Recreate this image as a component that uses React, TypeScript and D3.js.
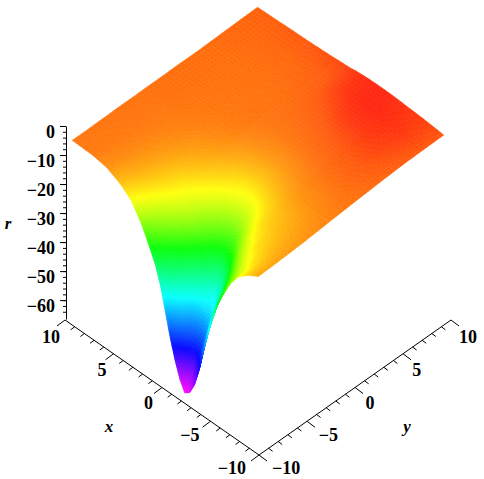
import React, { useEffect, useRef } from "react";
import * as d3 from "d3";

const gridX = [-9.6, -8.5, -7.5, -6.5, -5.5, -5, -4.5, -4, -3.5, -3, -2.5, -2, -1.5, -1, -0.5, 0, 0.5, 1, 1.5, 2.5, 3.5, 4.5, 6, 7.5, 9.6];
const gridY = [-9.65, -9, -8, -7, -6, -5, -4, -3, -2, -0.5, 1.5, 3.5, 5.5, 7.5, 9.65];
const gridR = [
  [-6.7, -8.9, -11.8, -17, -25, -30.5, -37, -44.5, -53, -59.5, -63.3, -64.5, -61, -55.6, -49, -41.2, -33.4, -27.8, -23.6, -16.5, -11.2, -8.3, -5.6, -4.7, -4.5],
  [-6.6, -8.6, -11.5, -16, -22.5, -26.5, -31, -37, -44, -50.5, -55, -54.5, -50, -42.5, -35, -29.5, -25, -21.5, -18.5, -13.5, -10.2, -7.9, -5.6, -4.7, -4.5],
  [-6.5, -8, -9.8, -12.5, -18, -22, -26.5, -31.5, -36, -39, -40, -39, -35.5, -30, -25, -21, -18, -15.8, -14, -11.2, -8.8, -7, -5.4, -4.7, -4.5],
  [-6.3, -7.4, -8.6, -10, -13.5, -16, -19.5, -24, -29, -33.5, -35, -30.5, -25.5, -21.5, -18.5, -16.2, -14.3, -12.9, -11.8, -9.6, -8, -6.6, -5.3, -4.6, -4.4],
  [-6.1, -7, -8, -9, -10.7, -12.3, -14.5, -17, -20, -22.8, -24, -22.3, -19.7, -17.4, -15.5, -13.8, -12.5, -11.4, -10.6, -8.8, -7.4, -6.2, -5.1, -4.6, -4.4],
  [-5.9, -6.6, -7.4, -8.2, -9.2, -10.1, -11.4, -13, -15, -16.5, -17, -16.4, -15.2, -14, -12.8, -11.7, -10.8, -9.9, -9.2, -7.9, -6.8, -5.9, -5, -4.5, -4.3],
  [-5.6, -6.2, -6.9, -7.6, -8.4, -9, -9.8, -10.7, -11.8, -12.6, -13, -12.7, -12, -11.4, -10.8, -10, -9.3, -8.6, -8, -7, -6.2, -5.5, -4.9, -4.5, -4.3],
  [-5.3, -5.8, -6.3, -6.9, -7.4, -8, -8.5, -9, -9.5, -10, -10.3, -10.4, -10.2, -9.7, -9.2, -8.6, -8, -7.5, -7, -6.3, -5.7, -5.2, -4.8, -4.5, -4.3],
  [-5, -5.3, -5.6, -5.9, -6.4, -6.7, -7.1, -7.5, -7.8, -8.1, -8.3, -8.3, -8.2, -8, -7.7, -7.3, -6.9, -6.5, -6.1, -5.6, -5.2, -4.9, -4.6, -4.4, -4.2],
  [-4.6, -4.6, -4.8, -5, -5.2, -5.4, -5.6, -5.8, -6, -6.1, -6.2, -6.2, -6.1, -6, -5.9, -5.7, -5.5, -5.3, -5.1, -4.9, -4.7, -4.6, -4.5, -4.3, -4.2],
  [-4.1, -3.8, -3.7, -3.8, -3.9, -4, -4.1, -4.2, -4.3, -4.4, -4.5, -4.55, -4.6, -4.6, -4.6, -4.55, -4.5, -4.5, -4.5, -4.4, -4.4, -4.4, -4.4, -4.2, -4.1],
  [-3.6, -3.1, -2.8, -2.8, -2.8, -2.9, -3, -3.1, -3.2, -3.35, -3.5, -3.6, -3.7, -3.8, -3.9, -3.95, -4, -4.1, -4.2, -4.3, -4.3, -4.3, -4.3, -4.2, -4.1],
  [-3.2, -2.7, -2.3, -2.1, -2, -2, -2, -2, -2.1, -2.2, -2.4, -2.6, -2.8, -2.95, -3.1, -3.3, -3.5, -3.65, -3.8, -4, -4.1, -4.1, -4.1, -4, -3.9],
  [-3, -2.4, -2, -1.8, -1.6, -1.5, -1.5, -1.45, -1.45, -1.5, -1.6, -1.75, -1.9, -2.15, -2.4, -2.7, -3, -3.2, -3.35, -3.5, -3.7, -3.8, -3.8, -3.8, -3.7],
  [-2.9, -2.5, -2.2, -2, -1.8, -1.7, -1.6, -1.55, -1.5, -1.5, -1.5, -1.55, -1.6, -1.75, -1.9, -2.2, -2.3, -2.4, -2.5, -2.7, -2.85, -3, -3.1, -3.3, -3.5],
];

// colour by height
const hueR = [-65, -52, -37, -23, -11, -4.5, -3, -1.5];
const hueDeg = [305, 240, 180, 120, 60, 26, 19, 6];

const rMajor = [0, -10, -20, -30, -40, -50, -60];
const rMinor = d3.range(0, -66, -2);
const planeMajor = [-10, -5, 0, 5, 10];
const planeMinor = d3.range(-10, 11);

const font = "'Liberation Serif', serif";

const xAxisX = d3.scaleLinear().domain([10, -10]).range([65, 259]);
const xAxisY = d3.scaleLinear().domain([10, -10]).range([320, 455]);
const yAxisX = d3.scaleLinear().domain([-10, 10]).range([259, 451]);
const yAxisY = d3.scaleLinear().domain([-10, 10]).range([455, 320]);
const rScale = d3.scaleLinear().domain([0, -66.5]).range([126, 319]);
const hue = d3.scaleLinear().domain(hueR).range(hueDeg).clamp(true);

const xLabelX = d3.scaleLinear().domain([10, -10]).range([60, 246]);
const yLabelX = d3.scaleLinear().domain([-10, 10]).range([272, 459]);
const xLabelY = d3.scaleLinear().domain([10, -10]).range([343, 474]);
const yLabelY = d3.scaleLinear().domain([10, -10]).range([343, 474]);

const project = (x: number, y: number, r: number): [number, number] => [
  xAxisX(x) + yAxisX(y) - 259,
  xAxisY(x) + yAxisY(y) - 455 - (319 - rScale(r)),
];

// each grid cell is shaded in small pieces, far cells first so the near wall of the well covers what is behind it
function surfaceCells() {
  const cells: { key: string; d: string; fill: string; depth: number }[] = [];
  const line = d3.line();
  for (let j = 0; j < gridY.length - 1; j++) {
    for (let i = 0; i < gridX.length - 1; i++) {
      const corners = [gridR[j][i], gridR[j][i + 1], gridR[j + 1][i], gridR[j + 1][i + 1]];
      const steps = Math.max(6, Math.min(12, Math.ceil(((d3.max(corners) as number) - (d3.min(corners) as number)) / 1.2)));
      const lx = d3.interpolateNumber(gridX[i], gridX[i + 1]);
      const ly = d3.interpolateNumber(gridY[j], gridY[j + 1]);
      const low = d3.interpolateNumber(corners[0], corners[1]);
      const high = d3.interpolateNumber(corners[2], corners[3]);
      const at = (u: number, v: number) => d3.interpolateNumber(low(u), high(u))(v);
      for (let a = 0; a < steps; a++) {
        for (let b = 0; b < steps; b++) {
          const u0 = a / steps, u1 = (a + 1) / steps;
          const v0 = b / steps, v1 = (b + 1) / steps;
          const d = line([
            project(lx(u0), ly(v0), at(u0, v0)),
            project(lx(u1), ly(v0), at(u1, v0)),
            project(lx(u1), ly(v1), at(u1, v1)),
            project(lx(u0), ly(v1), at(u0, v1)),
          ]) + "Z";
          const mid = at((u0 + u1) / 2, (v0 + v1) / 2);
          cells.push({
            key: `${j}-${i}-${a}-${b}`,
            d,
            fill: d3.hsl(hue(mid), 1, 0.52).toString(),
            depth: lx(u0) + ly(v0),
          });
        }
      }
    }
  }
  return cells.sort((p, q) => q.depth - p.depth);
}

const App = () => {
  const rAxis = useRef<SVGGElement>(null);

  useEffect(() => {
    const g = d3.select(rAxis.current);
    g.selectAll("*").remove();
    const minor = g.append("g").call(d3.axisLeft(rScale).tickValues(rMinor).tickSize(3).tickFormat(() => ""));
    minor.select(".domain").remove();
    const major = g.append("g").call(d3.axisLeft(rScale).tickValues(rMajor).tickSize(6).tickSizeOuter(0));
    major.selectAll("text")
      .attr("x", -11)
      .attr("dy", "0.62em")
      .attr("y", 0)
      .style("font-family", font)
      .style("font-weight", "bold")
      .style("font-size", "18px");
  }, []);

  const cells = surfaceCells();

  return (
    <svg width={484} height={479} style={{ position: "absolute", left: 0, top: 0 }}>
      <defs>
        <filter id="soft" x="-5%" y="-5%" width="110%" height="110%" colorInterpolationFilters="sRGB">
          <feGaussianBlur stdDeviation="0.6" />
        </filter>
      </defs>
      <rect width={484} height={479} fill="#fff" />
      <g filter="url(#soft)">
        {cells.map((c) => (
          <path key={c.key} d={c.d} fill={c.fill} stroke={c.fill} strokeWidth={0.5} />
        ))}
      </g>
      <g ref={rAxis} transform="translate(66,0)" />
      <g stroke="#000" strokeWidth={1} fill="none">
        <line x1={xAxisX(10)} y1={xAxisY(10)} x2={xAxisX(-10)} y2={xAxisY(-10)} />
        <line x1={yAxisX(-10)} y1={yAxisY(-10)} x2={yAxisX(10)} y2={yAxisY(10)} />
        {planeMinor.map((v) => {
          const len = planeMajor.includes(v) ? 1 : 0.5;
          return (
            <g key={v}>
              <line x1={xAxisX(v)} y1={xAxisY(v)} x2={xAxisX(v) - 8 * len} y2={xAxisY(v) + 6 * len} />
              <line x1={yAxisX(v)} y1={yAxisY(v)} x2={yAxisX(v) + 8 * len} y2={yAxisY(v) + 6 * len} />
            </g>
          );
        })}
      </g>
      <g fontFamily={font} fontWeight="bold" fontSize={18} fill="#000">
        {planeMajor.map((v) => (
          <g key={v}>
            <text x={xLabelX(v)} y={xLabelY(v)} textAnchor="end">{v < 0 ? `\u2212${-v}` : v}</text>
            <text x={yLabelX(v)} y={yLabelY(v)}>{v < 0 ? `\u2212${-v}` : v}</text>
          </g>
        ))}
        <g fontStyle="italic" fontSize={17}>
          <text x={8} y={229} textAnchor="middle">r</text>
          <text x={109} y={432} textAnchor="middle">x</text>
          <text x={407} y={432} textAnchor="middle">y</text>
        </g>
      </g>
    </svg>
  );
};

export default App;
